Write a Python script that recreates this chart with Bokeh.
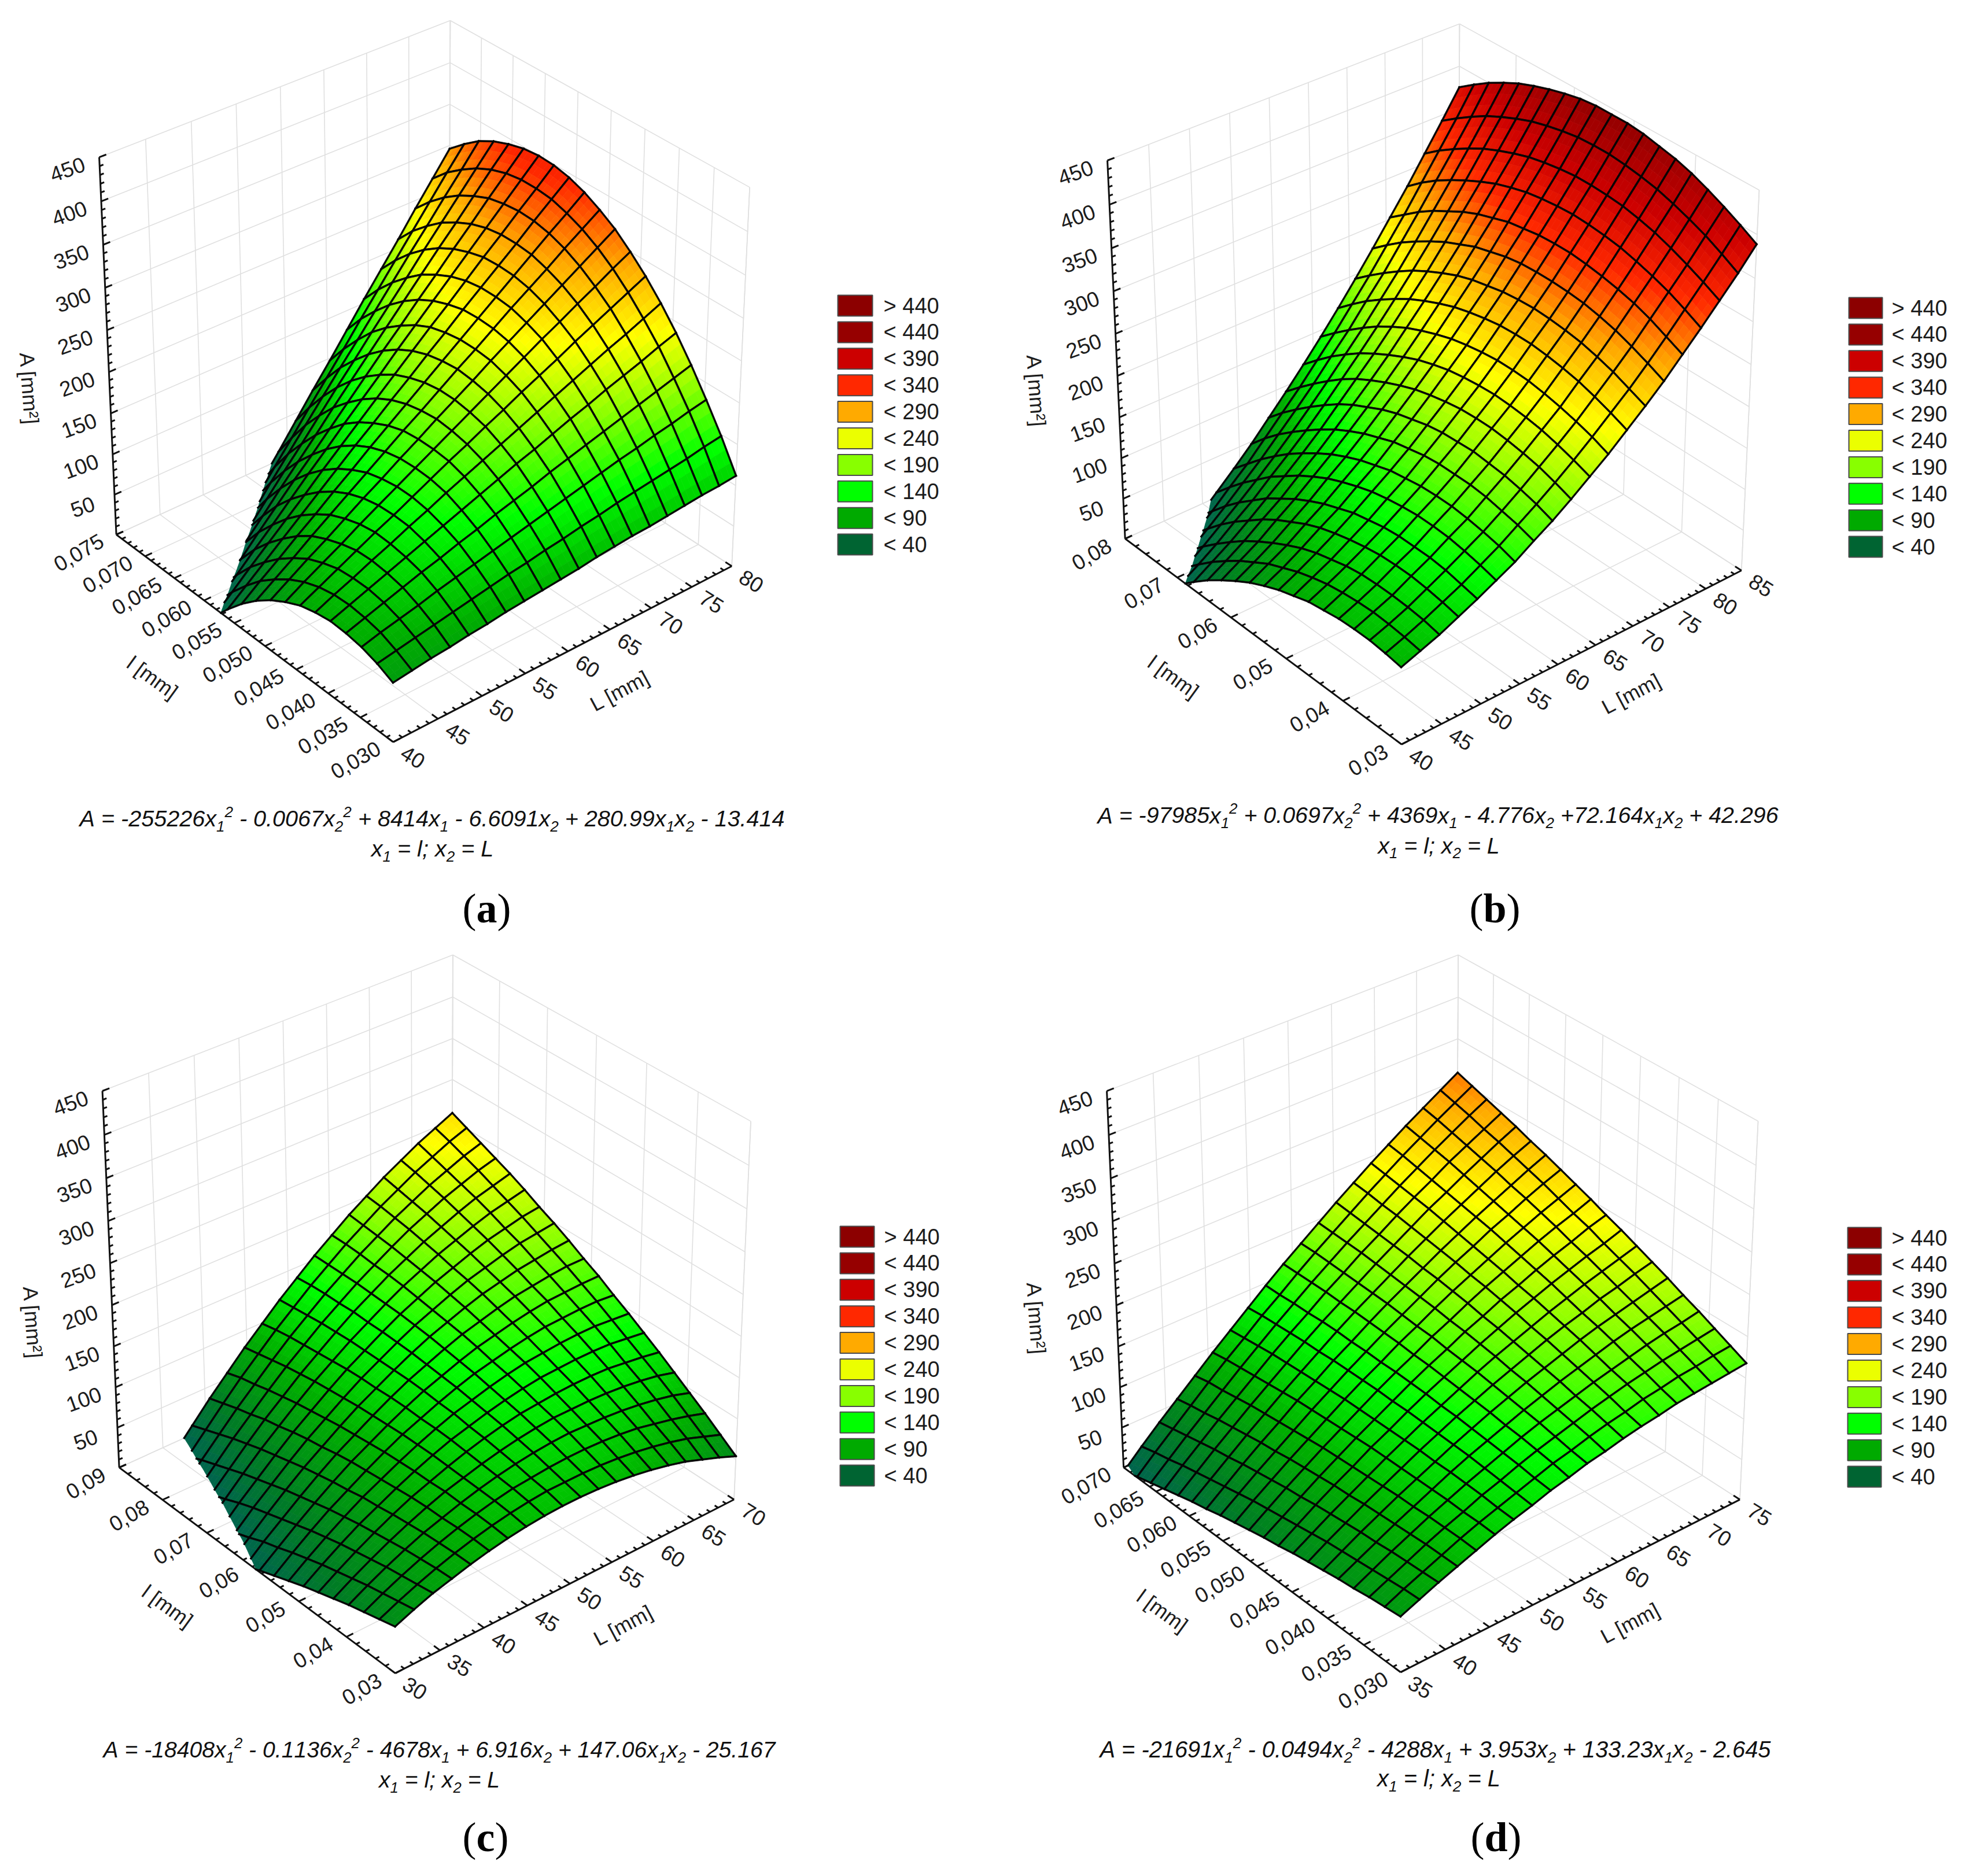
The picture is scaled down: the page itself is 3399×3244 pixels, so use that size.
import numpy as np
from bokeh.plotting import figure
from bokeh.embed import file_html
from bokeh.resources import INLINE
from bokeh.models import Range1d
from bokeh.core.properties import value

# ---------- data: surface height A [mm2] at mesh nodes (rows: l, columns: L) ----------
Z_A = [
[71,74,77,79,82,84,87,89,91,93,95,98,100,102,103,105,107,109,110,112],
[80,84,88,92,96,100,104,108,111,115,118,122,125,129,132,135,138,141,145,148],
[86,92,97,102,108,113,118,123,128,133,138,143,148,153,158,162,167,171,176,180],
[89,96,103,110,117,123,130,136,143,149,155,162,168,174,180,186,192,198,204,210],
[90,98,106,114,122,130,138,146,154,162,170,177,185,193,200,208,215,222,230,237],
[87,97,106,116,125,135,144,154,163,172,181,190,199,208,217,226,235,243,252,261],
[82,93,104,115,126,136,147,158,169,179,190,200,211,221,231,242,252,262,272,282],
[73,86,98,110,123,135,147,159,171,183,195,207,219,231,243,254,266,277,289,300],
[62,76,90,103,117,131,144,158,171,185,198,211,225,238,251,264,277,290,303,316],
[48,63,78,94,109,124,139,154,169,183,198,213,227,242,257,271,285,300,314,328],
[31,48,64,81,97,114,130,147,163,179,195,211,227,243,259,275,291,307,322,338],
[11,29,47,65,83,101,119,137,154,172,189,207,224,242,259,276,293,311,328,345],
[-11,8,28,47,66,85,105,124,143,162,181,200,219,237,256,275,293,312,330,349],
[-37,-16,5,26,46,67,88,108,129,149,169,190,210,230,250,270,290,310,330,350],
[-65,-43,-21,1,24,46,68,89,111,133,155,177,198,220,241,263,284,306,327,348],
[-97,-73,-49,-26,-2,21,45,68,91,115,138,161,184,207,230,253,275,298,321,343],
[-131,-106,-81,-56,-31,-6,19,44,68,93,118,142,167,191,215,240,264,288,312,336],
[-168,-141,-115,-88,-62,-36,-10,17,43,69,95,121,146,172,198,224,249,275,300,326],
[-207,-180,-152,-124,-96,-69,-41,-13,14,41,69,96,123,151,178,205,232,259,286,312],
[-250,-221,-192,-162,-133,-104,-75,-46,-17,11,40,69,97,126,155,183,211,240,268,296],
]
Z_B = [
[92,100,108,118,128,139,150,164,177,192,208,224,242,260,279,300,321,343,365,389],
[95,103,112,122,132,144,156,170,184,199,215,232,250,268,288,309,331,353,376,400],
[97,105,114,125,136,148,160,174,189,205,221,238,257,276,296,318,340,362,386,410],
[97,106,115,127,138,151,163,178,193,209,226,243,263,282,303,325,347,370,394,419],
[96,105,115,127,138,152,165,180,195,212,229,247,267,287,308,330,353,377,401,427],
[93,103,114,126,138,152,165,180,197,214,231,250,270,290,312,334,358,382,407,433],
[90,100,111,123,136,150,164,180,196,214,232,251,272,292,314,337,361,386,411,437],
[84,95,106,119,132,147,161,178,195,213,231,251,272,293,315,339,363,388,414,441],
[78,89,101,114,128,143,158,174,192,210,229,249,271,292,315,339,364,389,416,443],
[70,81,94,108,121,137,152,170,187,206,226,246,268,290,314,338,363,389,416,443],
[61,73,85,100,114,130,146,163,182,201,221,242,264,286,311,335,361,387,415,443],
[50,62,75,90,105,122,138,156,175,194,215,236,259,282,306,332,358,384,412,441],
[38,51,64,80,95,112,129,147,166,186,207,229,252,276,301,326,353,380,408,437],
[25,38,52,68,83,101,118,137,157,177,198,221,244,268,293,320,347,374,403,432],
[10,24,38,54,71,88,106,125,146,167,188,211,235,259,285,312,339,367,396,426],
[-6,8,23,40,56,75,93,112,133,155,177,200,224,249,275,302,330,359,388,419],
[-24,-9,7,24,41,59,78,98,119,141,164,187,212,237,264,292,320,349,379,410],
[-42,-27,-11,6,24,43,62,83,104,126,150,173,199,224,252,280,309,338,368,400],
[-62,-47,-31,-13,5,25,44,66,88,110,134,158,184,210,238,266,296,326,356,388],
[-84,-68,-51,-33,-14,6,26,47,70,93,117,142,168,195,223,252,281,312,343,375],
]
Z_C = [
[56,65,73,79,85,90,94,97,99,100,100,99,97,94,90,85,79,71,63,54],
[51,61,70,78,85,91,96,100,103,105,105,105,104,102,99,95,90,84,76,68],
[46,57,67,76,84,91,97,102,106,108,110,111,111,110,108,105,100,95,89,82],
[41,53,64,74,83,90,97,103,108,112,115,117,118,117,116,114,111,107,102,95],
[35,48,60,71,81,90,98,104,110,115,119,122,124,124,124,123,121,118,114,108],
[29,43,56,68,79,89,97,105,112,118,123,127,129,131,132,132,131,128,125,121],
[23,38,52,65,76,87,97,106,114,120,126,131,135,138,139,140,140,139,136,133],
[16,32,47,61,74,85,96,106,115,123,129,135,140,144,146,148,149,149,147,145],
[9,26,42,57,70,83,95,106,115,124,132,139,144,149,153,156,157,158,158,156],
[2,19,36,52,67,81,93,105,116,126,134,142,149,154,159,163,166,167,168,168],
[-6,13,30,47,63,78,91,104,116,127,136,145,153,159,165,170,173,176,178,178],
[-14,5,24,42,59,74,89,103,115,127,138,148,156,164,171,176,181,184,187,189],
[-23,-2,18,36,54,71,86,101,115,127,139,150,159,168,176,182,188,193,196,199],
[-32,-10,11,30,49,67,83,99,114,127,140,152,162,172,180,188,195,200,205,208],
[-41,-18,3,24,44,62,80,97,112,127,140,153,165,175,185,193,201,208,213,218],
[-51,-27,-4,17,38,58,76,94,110,126,141,154,167,178,189,198,207,215,221,227],
[-61,-36,-12,10,32,52,72,91,108,125,140,155,168,181,193,203,213,221,229,235],
[-71,-46,-21,3,25,47,67,87,106,123,140,155,170,183,196,207,218,227,236,243],
[-82,-55,-30,-5,18,41,63,83,103,121,139,155,171,185,199,211,223,233,243,251],
[-93,-65,-39,-13,11,35,57,79,99,119,137,155,171,187,201,215,227,239,249,259],
]
Z_D = [
[67,76,85,93,101,109,116,122,129,134,140,144,149,153,156,160,162,164,166,168],
[65,75,84,93,102,110,117,124,131,138,143,149,154,158,163,166,170,172,175,177],
[63,73,83,93,102,110,119,126,134,141,147,153,159,164,169,173,177,180,183,186],
[60,71,82,92,102,111,120,128,136,144,151,157,163,169,174,179,184,188,191,195],
[58,69,80,91,101,111,121,130,138,146,154,161,168,174,180,186,191,195,199,203],
[55,67,79,90,101,111,121,131,140,149,157,165,172,179,186,192,197,202,207,212],
[52,65,77,89,100,111,122,132,142,151,160,168,176,184,191,197,204,209,215,220],
[49,62,75,87,99,111,122,133,143,153,163,172,180,188,196,203,210,216,222,228],
[45,59,73,86,98,111,122,134,145,155,165,175,184,193,201,209,216,223,229,236],
[42,56,70,84,97,110,122,134,146,157,167,178,187,197,205,214,222,229,237,243],
[38,53,68,82,96,109,122,135,147,158,170,180,191,201,210,219,228,236,243,251],
[34,50,65,80,94,108,122,135,147,160,171,183,194,204,214,224,233,242,250,258],
[30,46,62,77,92,107,121,135,148,161,173,185,197,208,218,229,238,248,257,265],
[25,42,59,75,90,106,120,135,148,162,175,187,199,211,222,233,243,253,263,272],
[21,38,55,72,88,104,119,134,149,163,176,189,202,214,226,237,248,259,269,278],
[16,34,52,69,86,102,118,134,149,163,177,191,204,217,230,241,253,264,275,285],
[11,30,48,66,83,100,117,133,148,164,178,193,206,220,233,245,258,269,280,291],
[6,25,44,62,80,98,115,132,148,164,179,194,208,222,236,249,262,274,286,297],
[1,21,40,59,78,96,113,131,147,164,180,195,210,225,239,253,266,279,291,303],
[-5,16,36,55,74,93,111,129,147,164,180,196,212,227,242,256,270,283,296,309],
]

# ---------- tick labels and texts ----------
L_TICKS_A = [40,45,50,55,60,65,70,75,80]
L_TICKS_B = [40,45,50,55,60,65,70,75,80,85]
L_TICKS_C = [30,35,40,45,50,55,60,65,70]
L_TICKS_D = [35,40,45,50,55,60,65,70,75]
l_TICKS_A = ["0,030","0,035","0,040","0,045","0,050","0,055","0,060","0,065","0,070","0,075"]
l_TICKS_B = ["0,03","0,04","0,05","0,06","0,07","0,08"]
l_TICKS_C = ["0,03","0,04","0,05","0,06","0,07","0,08","0,09"]
l_TICKS_D = ["0,030","0,035","0,040","0,045","0,050","0,055","0,060","0,065","0,070"]
Z_TICKS = [50,100,150,200,250,300,350,400,450]
LEGEND_LABELS = ["> 440","< 440","< 390","< 340","< 290","< 240","< 190","< 140","< 90","< 40"]
LEGEND_COLORS = ["#8c0000","#960000","#cc0000","#ff2800","#ffaa00","#ebff00","#88ff00","#00ff00","#00aa00","#006432"]
EQ_A = "A = -255226x_1^2 - 0.0067x_2^2 + 8414x_1 - 6.6091x_2 + 280.99x_1x_2 - 13.414"
EQ_B = "A = -97985x_1^2 + 0.0697x_2^2 + 4369x_1 - 4.776x_2 +72.164x_1x_2 + 42.296"
EQ_C = "A = -18408x_1^2 - 0.1136x_2^2 - 4678x_1 + 6.916x_2 + 147.06x_1x_2 - 25.167"
EQ_D = "A = -21691x_1^2 - 0.0494x_2^2 - 4288x_1 + 3.953x_2 + 133.23x_1x_2 - 2.645"
EQ2 = "x_1 = l; x_2 = L"

PANELS = [
 dict(name="a", Z=Z_A, lr=(.03,.075), Lr=(40,80), Lt=L_TICKS_A, lt=l_TICKS_A, eq=EQ_A,
      F=(678.6,1282.6), Lc=(200.9,924.5), R=(1265,978), LT=(171.4,270.9), RT=(1296,324), BT=(777.3,35),
      eqx=(137,1356), eqy=(1430,1482), eq2x=747, lab=(841,1598),
      leg=(1448,1508,528,1527), zt=(50,672), lt_pos=(263,1171), Lt_pos=(1071,1194)),
 dict(name="b", Z=Z_B, lr=(.03,.08), Lr=(40,85), Lt=L_TICKS_B, lt=l_TICKS_B, eq=EQ_B,
      F=(2422,1286.6), Lc=(1945,931.6), R=(3010.6,985.5), LT=(1914.4,276.5), RT=(3041.3,328.8), BT=(2522.3,40.7),
      eqx=(1897,3074), eqy=(1424,1476), eq2x=2487, lab=(2582,1598),
      leg=(3196,3254,532,3270), zt=(1791,676), lt_pos=(2028,1170), Lt_pos=(2820,1199)),
 dict(name="c", Z=Z_C, lr=(.03,.09), Lr=(30,70), Lt=L_TICKS_C, lt=l_TICKS_C, eq=EQ_C,
      F=(682,2892.8), Lc=(206,2537.9), R=(1269,2591.8), LT=(177,1885.3), RT=(1298,1939.2), BT=(781.6,1650.7),
      eqx=(178,1340), eqy=(3040,3092), eq2x=759, lab=(841,3204),
      leg=(1452,1511,2138,1528), zt=(56,2287), lt_pos=(289,2777), Lt_pos=(1077,2810)),
 dict(name="d", Z=Z_D, lr=(.03,.07), Lr=(35,75), Lt=L_TICKS_D, lt=l_TICKS_D, eq=EQ_D,
      F=(2420,2891), Lc=(1942.6,2537.9), R=(3008,2591.8), LT=(1913.6,1885.3), RT=(3039.6,1939.2), BT=(2519.7,1650.7),
      eqx=(1901,3061), eqy=(3040,3090), eq2x=2487, lab=(2584,3204),
      leg=(3194,3252,2140,3270), zt=(1791,2280), lt_pos=(2009,2785), Lt_pos=(2818,2806)),
]

ZTOP = 450.0
SUB = 3
COL_Z = [-20,0,40,90,140,190,240,290,340,390,440,500]
COL_RGB = [(0,95,90),(0,100,78),(0,125,35),(0,175,0),(0,255,0),(136,255,0),(255,255,0),(255,170,0),(255,40,0),(204,0,0),(150,0,0),(140,0,0)]
COL_ARR = np.array(COL_RGB, float)

def colour(z):
    r = [np.interp(z, COL_Z, COL_ARR[:,k]) for k in range(3)]
    return "#%02x%02x%02x" % tuple(int(round(v)) for v in r)

def fit_camera(pn):
    pts3 = [(0,0,0),(1,0,0),(0,1,0),(1,0,1),(0,1,1),(1,1,1)]
    pts2 = [pn["F"],pn["Lc"],pn["R"],pn["LT"],pn["RT"],pn["BT"]]
    cx, cy = np.mean([p[0] for p in pts2]), np.mean([p[1] for p in pts2])
    s = 1000.0
    M = []
    for (u,v,w),(x,y) in zip(pts3,pts2):
        x,y = (x-cx)/s,(y-cy)/s
        M.append([u,v,w,1,0,0,0,0,-x*u,-x*v,-x*w,-x])
        M.append([0,0,0,0,u,v,w,1,-y*u,-y*v,-y*w,-y])
    P = np.linalg.svd(np.array(M))[2][-1].reshape(3,4)
    def proj(u,v,w):
        h = P @ np.array([u,v,w,1.0])
        return cx + s*h[0]/h[2], cy + s*h[1]/h[2]
    return proj

def clip_poly(poly):
    out = []
    n = len(poly)
    for k in range(n):
        a = poly[k]; b = poly[(k+1)%n]
        ina, inb = a[2] >= 0, b[2] >= 0
        if ina: out.append(a)
        if ina != inb:
            t = a[2]/(a[2]-b[2])
            out.append((a[0]+t*(b[0]-a[0]), a[1]+t*(b[1]-a[1]), 0.0))
    return out

WIDTHS = {'.':.278,' ':.278,'-':.333,'+':.584,'=':.584,'A':.667,'x':.5,';':.278,'l':.222,'L':.556}
def parse_eq(s):
    segs=[]; k=0
    while k < len(s):
        if s[k] in "_^":
            segs.append((s[k+1], s[k])); k+=2
        else:
            segs.append((s[k], "n")); k+=1
    return segs
def seg_width(segs):
    return sum(WIDTHS.get(c,.556)*(1 if m=="n" else .66) for c,m in segs)

W, H = 3383, 3228
p = figure(width=W, height=H, output_backend="svg", toolbar_location=None,
           x_range=Range1d(0, W), y_range=Range1d(H, 0), min_border=0)
p.axis.visible = False; p.grid.visible = False; p.outline_line_color = None

SANS = value("Liberation Sans")
INK = "#1c1c1c"

def label(xs, ys, txt, size, angle=0, align="center", base="middle", font=SANS, style="normal", color=INK):
    if base == "alphabetic":
        ys = [y - .38*size for y in ys]
    p.text(xs, ys, text=txt, text_font=font, text_font_size=f"{size:.1f}px", angle=angle, angle_units="deg",
           text_align=align, text_baseline=base, text_font_style=style, text_color=color)

for pn in PANELS:
    proj = fit_camera(pn)
    lmin,lmax = pn["lr"]; Lmin,Lmax = pn["Lr"]
    lvals = [float(t.replace(",",".")) for t in pn["lt"]]
    U = lambda l: (l-lmin)/(lmax-lmin)
    V = lambda L: (L-Lmin)/(Lmax-Lmin)
    # grid on walls and floor
    gx=[];gy=[]
    def seg(a,b):
        xa,ya = proj(*a); xb,yb = proj(*b)
        gx.append([xa,xb]); gy.append([ya,yb])
    for l in lvals:
        u=U(l)
        seg((u,0,0),(u,1,0)); seg((u,1,0),(u,1,1))
    for L in pn["Lt"]:
        v=V(L)
        seg((0,v,0),(1,v,0)); seg((1,v,0),(1,v,1))
    for z in [0]+Z_TICKS:
        w=z/ZTOP
        seg((1,0,w),(1,1,w)); seg((0,1,w),(1,1,w))
    seg((1,1,0),(1,1,1)); seg((0,1,0),(0,1,1))
    p.multi_line(gx,gy,line_color="#e0e0e0",line_width=1.6)

    # axis lines and ticks
    ax=[];ay=[]
    def aseg(a,b):
        xa,ya = proj(*a); xb,yb = proj(*b)
        ax.append([xa,xb]); ay.append([ya,yb])
    aseg((0,0,0),(1,0,0)); aseg((0,0,0),(0,1,0)); aseg((1,0,0),(1,0,1))
    def tick(a,d,ln):
        xa,ya = proj(*a); xb,yb = proj(a[0]+d[0]*.05,a[1]+d[1]*.05,a[2]+d[2]*.05)
        n = np.hypot(xb-xa,yb-ya)
        ax.append([xa,xa+(xb-xa)/n*ln]); ay.append([ya,ya+(yb-ya)/n*ln])
    MAJ,MIN = 13,7
    # l axis
    dl = lvals[1]-lvals[0]
    for k in range(round((lmax-lmin)/dl*5)+1):
        l = lmin + k*dl/5
        tick((U(l),0,0),(0,1,0), MAJ if k%5==0 else MIN)
    # L axis
    for k in range(round((Lmax-Lmin)/5*5)+1):
        L = Lmin + k
        tick((0,V(L),0),(1,0,0), MAJ if k%5==0 else MIN)
    # z axis
    for k in range(0,46):
        tick((1,0,k*10/ZTOP),(0,1,0), MAJ if k%5==0 else MIN)
    p.multi_line(ax,ay,line_color="#111111",line_width=3.0)

    # tick labels
    off = (-65,31) if len(pn["lt"][0])==5 else (-58,27)
    pts=[proj(U(l),0,0) for l in lvals]
    label([q[0]+off[0] for q in pts],[q[1]+off[1] for q in pts],pn["lt"],37,angle=30)
    pts=[proj(0,V(L),0) for L in pn["Lt"]]
    label([q[0]+34 for q in pts],[q[1]+26 for q in pts],[str(v) for v in pn["Lt"]],37,angle=-32)
    pts=[proj(1,0,z/ZTOP) for z in Z_TICKS]
    label([q[0]-55 for q in pts],[q[1]+21 for q in pts],[str(v) for v in Z_TICKS],37,angle=20)
    label([pn["zt"][0]],[pn["zt"][1]],["A [mm²]"],36,angle=-86)
    label([pn["lt_pos"][0]],[pn["lt_pos"][1]],["l [mm]"],36,angle=-36)
    label([pn["Lt_pos"][0]],[pn["Lt_pos"][1]],["L [mm]"],36,angle=28)

    # surface, painted back to front; fills and mesh lines interleaved
    Z = np.array(pn["Z"],float)
    nl,nL = Z.shape
    sx=[];sy=[];sc=[]
    order = sorted(((i,j) for i in range(nl-1) for j in range(nL-1)), key=lambda t:-(t[0]+t[1]))
    def node(i,j): return (i/(nl-1), j/(nL-1), Z[i,j])
    def toxy(pt): return proj(pt[0],pt[1],pt[2]/ZTOP)
    for i,j in order:
        z00,z01,z10,z11 = Z[i,j],Z[i,j+1],Z[i+1,j],Z[i+1,j+1]
        if max(z00,z01,z10,z11) < 0: continue
        for a in range(SUB-1,-1,-1):
            for b in range(SUB-1,-1,-1):
                poly=[]
                for (da,db) in ((0,0),(0,1),(1,1),(1,0)):
                    s=(a+da)/SUB; t=(b+db)/SUB
                    zz = z00*(1-s)*(1-t)+z01*(1-s)*t+z10*s*(1-t)+z11*s*t
                    poly.append(((i+s)/(nl-1),(j+t)/(nL-1),zz))
                poly = clip_poly(poly)
                if len(poly)<3: continue
                zm = np.mean([q[2] for q in poly])
                xy=[toxy(q) for q in poly]
                sx.append([q[0] for q in xy]); sy.append([q[1] for q in xy]); sc.append(colour(zm))
        for A_,B_ in ((node(i,j),node(i,j+1)),(node(i+1,j),node(i+1,j+1)),(node(i,j),node(i+1,j)),(node(i,j+1),node(i+1,j+1))):
            if A_[2]<0 and B_[2]<0: continue
            if A_[2]<0 or B_[2]<0:
                t=A_[2]/(A_[2]-B_[2])
                C_=(A_[0]+t*(B_[0]-A_[0]),A_[1]+t*(B_[1]-A_[1]),0.0)
                if A_[2]<0: A_=C_
                else: B_=C_
            xa,ya=toxy(A_); xb,yb=toxy(B_)
            n=np.hypot(xb-xa,yb-ya)
            if n<.01: continue
            dx,dy=(xb-xa)/n,(yb-ya)/n
            hw=1.35
            sx.append([xa-dx*hw-dy*hw,xa-dx*hw+dy*hw,xb+dx*hw+dy*hw,xb+dx*hw-dy*hw])
            sy.append([ya-dy*hw+dx*hw,ya-dy*hw-dx*hw,yb+dy*hw-dx*hw,yb+dy*hw+dx*hw])
            sc.append("#050505")
    p.patches(sx,sy,fill_color=sc,line_color=sc,line_width=0.7)

    # legend
    x0,x1,yc,tx = pn["leg"]
    step = 45.9
    ys=[yc+k*step for k in range(10)]
    p.quad(left=[x0]*10,right=[x1]*10,top=[y-18 for y in ys],bottom=[y+18 for y in ys],
           fill_color=LEGEND_COLORS,line_color="#4a4a4a",line_width=2)
    label([tx]*10,ys,LEGEND_LABELS,38,align="left")

    # equation lines
    segs=parse_eq(pn["eq"])
    size=(pn["eqx"][1]-pn["eqx"][0])/seg_width(segs)
    def draw_eq(segs,x,y):
        xs={"n":[], "_":[], "^":[]}; yy={"n":[], "_":[], "^":[]}; tt={"n":[], "_":[], "^":[]}
        for c,m in segs:
            xs[m].append(x); tt[m].append(c)
            yy[m].append(y+(0 if m=="n" else (.22*size if m=="_" else -.42*size)))
            x+=WIDTHS.get(c,.556)*size*(1 if m=="n" else .66)
        for m,sz in (("n",size),("_",.66*size),("^",.66*size)):
            if tt[m]:
                label(xs[m],yy[m],tt[m],sz,align="left",base="alphabetic",style="italic",color="#111111")
    draw_eq(segs,pn["eqx"][0],pn["eqy"][0])
    s2=parse_eq(EQ2)
    draw_eq(s2,pn["eq2x"]-seg_width(s2)*size/2,pn["eqy"][1])

    # panel letter
    lx,ly=pn["lab"]
    SERIF=value("Liberation Serif")
    LS=72
    label([lx-.25*LS-.333*LS],[ly],["("],LS,align="left",base="alphabetic",font=SERIF,color="#000000")
    label([lx-.25*LS],[ly],[pn["name"]],LS,align="left",base="alphabetic",font=SERIF,style="bold",color="#000000")
    wid = .556 if pn["name"] in "bd" else .5 if pn["name"]=="a" else .444
    label([lx-.25*LS+wid*LS],[ly],[")"],LS,align="left",base="alphabetic",font=SERIF,color="#000000")

open("out.html","w").write(file_html(p,INLINE))
